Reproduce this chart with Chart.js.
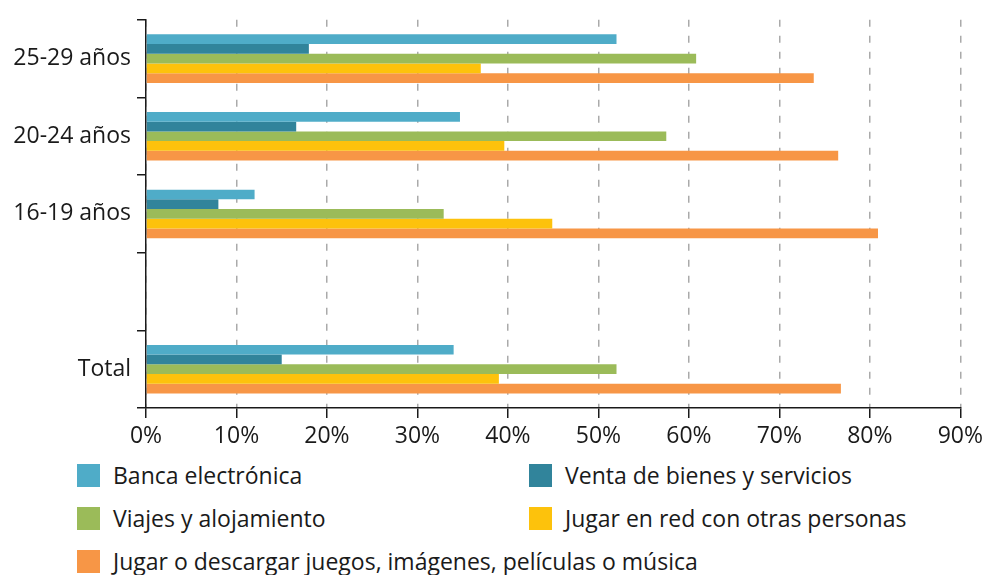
<!DOCTYPE html>
<html>
<head>
<meta charset="utf-8">
<script src="https://cdn.jsdelivr.net/npm/chart.js@4/dist/chart.umd.min.js"></script>
<style>
  body { margin: 0; background: #fff; font-family: "Open Sans", sans-serif; }
  #wrap { position: relative; width: 988px; height: 575px; overflow: hidden; }
  #box { position: absolute; left: 0; top: 0; width: 988px; height: 455px; }
  #leyenda { position: absolute; left: 77px; top: 463px; width: 900px; }
  .item { position: absolute; display: flex; align-items: center; font-size: 23px; line-height: 24px; color: #1a1a1a; white-space: nowrap; }
  .item span.cuadro { display: inline-block; width: 23px; height: 23px; margin-right: 13px; }
</style>
</head>
<body>
<div id="wrap">
  <div id="box"><canvas id="grafico"></canvas></div>
  <div id="leyenda"></div>
</div>
<script>
// Datos (porcentaje)
const categorias = ['25-29 años', '20-24 años', '16-19 años', '', 'Total'];
const series = ['Banca electrónica', 'Venta de bienes y servicios', 'Viajes y alojamiento', 'Jugar en red con otras personas', 'Jugar o descargar juegos, imágenes, películas o música'];
const banca = [52, 34.7, 12, null, 34];
const venta = [18, 16.6, 8, null, 15];
const viajes = [60.8, 57.5, 32.9, null, 52];
const jugarRed = [37, 39.6, 44.9, null, 39];
const descargar = [73.8, 76.5, 80.9, null, 76.8];
const ticksX = [0, 10, 20, 30, 40, 50, 60, 70, 80, 90];
const colores = ['#4FACC8', '#31849B', '#9BBB59', '#FDC20C', '#F79646'];

const valores = [banca, venta, viajes, jugarRed, descargar];
const fuente = { family: '"Open Sans", sans-serif', size: 23 };

const ctx = document.getElementById('grafico');
window.myChart = new Chart(ctx, {
    type: 'bar',
    data: {
        labels: categorias,
        datasets: series.map((s, i) => ({
            label: s,
            data: valores[i],
            backgroundColor: colores[i],
            borderWidth: 0,
            categoryPercentage: 0.625,
            barPercentage: 1.0
        }))
    },
    options: {
        indexAxis: 'y',
        responsive: true,
        maintainAspectRatio: false,
        animation: false,
        layout: { padding: { top: 14, right: 26, left: 0, bottom: 0 } },
        plugins: {
            legend: { display: false },
            tooltip: { enabled: false }
        },
        scales: {
            x: {
                min: 0,
                max: 90,
                afterBuildTicks: (scale) => { scale.ticks = ticksX.map(v => ({ value: v })); },
                afterFit: (scale) => { scale.height = 47; },
                ticks: {
                    callback: (v) => v + '%',
                    color: '#1a1a1a',
                    font: fuente,
                    padding: 5
                },
                grid: {
                    color: '#aaaaaa',
                    lineWidth: 1.5,
                    tickColor: '#1a1a1a',
                    tickLength: 10,
                    tickWidth: 1.5,
                    tickBorderDash: []
                },
                border: { display: true, color: '#1a1a1a', width: 1.5, dash: [7, 9] }
            },
            y: {
                afterFit: (scale) => { scale.width = 146; },
                ticks: {
                    color: '#1a1a1a',
                    font: fuente,
                    padding: 6
                },
                grid: {
                    offset: true,
                    drawOnChartArea: false,
                    color: '#1a1a1a',
                    tickLength: 9,
                    lineWidth: 1.5
                },
                border: { display: true, color: '#1a1a1a', width: 1.5 }
            }
        }
    }
});

// Leyenda en dos columnas
const leyenda = document.getElementById('leyenda');
series.forEach((s, i) => {
    const d = document.createElement('div');
    d.className = 'item';
    d.style.left = (i % 2 === 0 ? 0 : 452) + 'px';
    d.style.top = (Math.floor(i / 2) * 43) + 'px';
    d.innerHTML = '<span class="cuadro" style="background:' + colores[i] + '"></span>' + s;
    leyenda.appendChild(d);
});
</script>
</body>
</html>
